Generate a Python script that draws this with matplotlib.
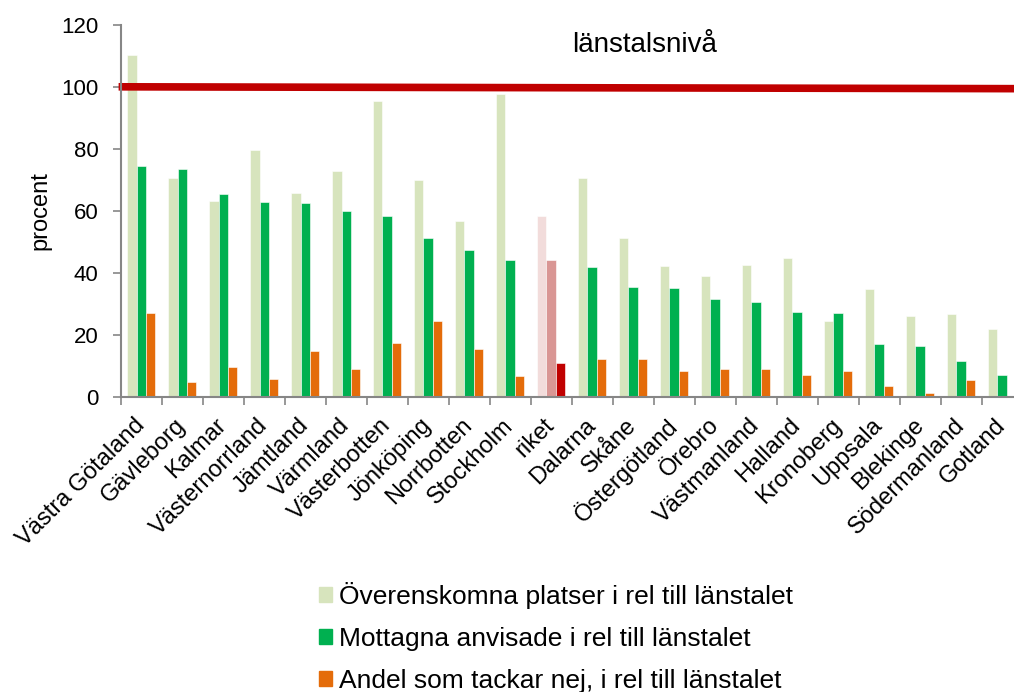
import numpy as np
import matplotlib
matplotlib.use("Agg")
import matplotlib.pyplot as plt
from matplotlib.patches import Patch

plt.rcParams['font.family'] = ['Liberation Sans', 'DejaVu Sans']

# data
lan = ["Västra Götaland", "Gävleborg", "Kalmar", "Västernorrland", "Jämtland",
       "Värmland", "Västerbotten", "Jönköping", "Norrbotten", "Stockholm", "riket",
       "Dalarna", "Skåne", "Östergötland", "Örebro", "Västmanland", "Halland",
       "Kronoberg", "Uppsala", "Blekinge", "Södermanland", "Gotland"]
overenskomna = [110.3, 70.7, 63.3, 79.8, 65.9, 72.8, 95.4, 70.0, 56.7, 97.8, 58.4,
                70.6, 51.2, 42.4, 39.0, 42.6, 44.7, 24.7, 34.9, 26.3, 26.8, 22.1]
mottagna = [74.5, 73.5, 65.4, 62.9, 62.6, 59.9, 58.4, 51.2, 47.5, 44.2, 44.2,
            41.9, 35.4, 35.3, 31.6, 30.6, 27.4, 27.3, 17.3, 16.6, 11.7, 7.3]
tackar_nej = [27.1, 4.8, 9.7, 5.9, 15.0, 9.1, 17.5, 24.5, 15.7, 6.9, 11.1,
              12.2, 12.3, 8.5, 9.0, 9.2, 7.3, 8.4, 3.7, 1.5, 5.6, 0.0]
lanstal_niva = [100.0, 99.4]

legend_labels = ["Överenskomna platser i rel till länstalet",
                 "Mottagna anvisade i rel till länstalet",
                 "Andel som tackar nej, i rel till länstalet"]

c_light, c_green, c_orange = "#D7E4BD", "#00B050", "#E46C0A"
riket_cols = ["#F2DCDB", "#D99694", "#C00000"]

fig = plt.figure(figsize=(10.14, 6.92), dpi=100)
ax = fig.add_axes([0.119, 0.4259, 0.8895, 0.5384])

x = np.arange(len(lan))
w = 0.227
cols1 = [riket_cols[0] if n == "riket" else c_light for n in lan]
cols2 = [riket_cols[1] if n == "riket" else c_green for n in lan]
cols3 = [riket_cols[2] if n == "riket" else c_orange for n in lan]
ax.bar(x - w, overenskomna, w, color=cols1, edgecolor="white", linewidth=0.4)
ax.bar(x, mottagna, w, color=cols2, edgecolor="white", linewidth=0.4)
ax.bar(x + w, tackar_nej, w, color=cols3, edgecolor="white", linewidth=0.4)

ax.plot([-0.55, 21.3], lanstal_niva, color="#C00000", lw=5.5, clip_on=False,
        solid_capstyle="butt")
ax.text(10.5, 113.5, "länstalsnivå", fontsize=20, va="center", ha="left")

ax.set_xlim(-0.5, len(lan) - 0.5)
ax.set_ylim(0, 120)
ax.set_yticks(range(0, 121, 20))
ax.set_xticks(np.arange(-0.5, len(lan), 1.0), minor=False)
ax.set_xticklabels([])
ax.set_xticks(x, minor=True)
ax.set_xticklabels(lan, minor=True, rotation=45, ha="right", va="center",
                   rotation_mode="anchor", fontsize=17)
ax.tick_params(axis="x", which="minor", length=0, pad=18)
ax.tick_params(axis="x", which="major", length=6, color="#868686", width=1.2)
ax.tick_params(axis="y", length=6, color="#868686", width=1.2, labelsize=16, pad=10)
for s in ["top", "right"]:
    ax.spines[s].set_visible(False)
for s in ["left", "bottom"]:
    ax.spines[s].set_color("#868686")
    ax.spines[s].set_linewidth(1.5)
ax.set_ylabel("procent", fontsize=17, labelpad=7)

handles = [Patch(color=c) for c in (c_light, c_green, c_orange)]
fig.legend(handles, legend_labels, loc="upper left",
           bbox_to_anchor=(319 / 1014, 1 - 582 / 692), frameon=False,
           fontsize=19, handlelength=0.5, handleheight=0.5,
           handletextpad=0.25, labelspacing=0.68, borderpad=0, borderaxespad=0)

fig.savefig("out.png", dpi=100)
